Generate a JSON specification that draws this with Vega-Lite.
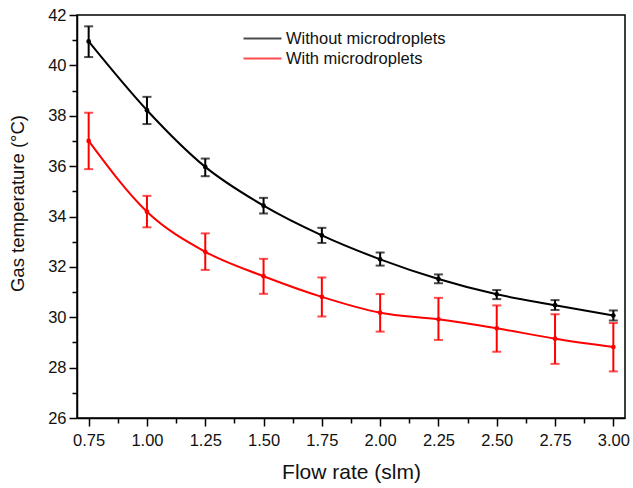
{
  "$schema": "https://vega.github.io/schema/vega-lite/v6.json",
  "width": 548,
  "height": 403,
  "autosize": {"type": "none"},
  "padding": {"left": 77, "top": 15, "right": 8, "bottom": 70},
  "background": "white",
  "config": {
    "view": {"stroke": "black", "strokeWidth": 1.5},
    "font": "Liberation Sans",
    "axis": {"grid": false, "domainColor": "black", "domainWidth": 1.5, "tickColor": "black", "tickWidth": 1.5, "labelColor": "#111", "labelFontSize": 16.5, "titleFontWeight": "normal", "titleColor": "#111"}
  },
  "datasets": {
    "pts": [
      {"x": 0.75, "series": "Without microdroplets", "y": 40.95, "lo": 40.33, "hi": 41.55},
      {"x": 1.00, "series": "Without microdroplets", "y": 38.22, "lo": 37.67, "hi": 38.75},
      {"x": 1.25, "series": "Without microdroplets", "y": 35.97, "lo": 35.6, "hi": 36.3},
      {"x": 1.50, "series": "Without microdroplets", "y": 34.43, "lo": 34.12, "hi": 34.74},
      {"x": 1.75, "series": "Without microdroplets", "y": 33.25, "lo": 32.95, "hi": 33.55},
      {"x": 2.00, "series": "Without microdroplets", "y": 32.3, "lo": 32.05, "hi": 32.57},
      {"x": 2.25, "series": "Without microdroplets", "y": 31.52, "lo": 31.35, "hi": 31.7},
      {"x": 2.50, "series": "Without microdroplets", "y": 30.91, "lo": 30.72, "hi": 31.08},
      {"x": 2.75, "series": "Without microdroplets", "y": 30.48, "lo": 30.29, "hi": 30.68},
      {"x": 3.00, "series": "Without microdroplets", "y": 30.07, "lo": 29.87, "hi": 30.27},
      {"x": 0.75, "series": "With microdroplets", "y": 37.0, "lo": 35.88, "hi": 38.12},
      {"x": 1.00, "series": "With microdroplets", "y": 34.19, "lo": 33.57, "hi": 34.82},
      {"x": 1.25, "series": "With microdroplets", "y": 32.6, "lo": 31.88, "hi": 33.33},
      {"x": 1.50, "series": "With microdroplets", "y": 31.63, "lo": 30.93, "hi": 32.32},
      {"x": 1.75, "series": "With microdroplets", "y": 30.81, "lo": 30.03, "hi": 31.58},
      {"x": 2.00, "series": "With microdroplets", "y": 30.18, "lo": 29.43, "hi": 30.92},
      {"x": 2.25, "series": "With microdroplets", "y": 29.92, "lo": 29.1, "hi": 30.77},
      {"x": 2.50, "series": "With microdroplets", "y": 29.56, "lo": 28.63, "hi": 30.47},
      {"x": 2.75, "series": "With microdroplets", "y": 29.15, "lo": 28.15, "hi": 30.12},
      {"x": 3.00, "series": "With microdroplets", "y": 28.82, "lo": 27.85, "hi": 29.77}
    ],
    "minor": [
      {"mx": 0.875, "my": 27}, {"mx": 1.125, "my": 29}, {"mx": 1.375, "my": 31},
      {"mx": 1.625, "my": 33}, {"mx": 1.875, "my": 35}, {"mx": 2.125, "my": 37},
      {"mx": 2.375, "my": 39}, {"mx": 2.625, "my": 41}, {"mx": 2.875, "my": 41}
    ]
  },
  "resolve": {"axis": {"x": "independent", "y": "independent"}},
  "layer": [
    {
      "data": {"name": "minor"},
      "mark": {"type": "point", "opacity": 0},
      "encoding": {
        "x": {"field": "mx", "type": "quantitative", "scale": {"domain": [0.7, 3.05], "nice": false, "zero": false},
              "axis": {"orient": "bottom", "values": [0.875, 1.125, 1.375, 1.625, 1.875, 2.125, 2.375, 2.625, 2.875], "labels": false, "tickSize": 5, "domain": false, "title": null}},
        "y": {"field": "my", "type": "quantitative", "scale": {"domain": [26, 42], "nice": false, "zero": false},
              "axis": {"orient": "left", "values": [27, 29, 31, 33, 35, 37, 39, 41], "labels": false, "tickSize": 5, "domain": false, "title": null}}
      }
    },
    {
      "data": {"name": "pts"},
      "layer": [
        {
          "mark": {"type": "rule", "strokeWidth": 2},
          "encoding": {
            "x": {"field": "x", "type": "quantitative", "scale": {"domain": [0.7, 3.05], "nice": false, "zero": false},
                  "axis": {"orient": "bottom", "values": [0.75, 1.0, 1.25, 1.5, 1.75, 2.0, 2.25, 2.5, 2.75, 3.0], "format": ".2f", "tickSize": 8, "labelPadding": 6, "title": "Flow rate (slm)", "titleFontSize": 21, "titlePadding": 13}},
            "y": {"field": "lo", "type": "quantitative", "scale": {"domain": [26, 42], "nice": false, "zero": false},
                  "axis": {"orient": "left", "values": [26, 28, 30, 32, 34, 36, 38, 40, 42], "tickSize": 8, "labelPadding": 3, "title": "Gas temperature (°C)", "titleFontSize": 18.5, "titlePadding": 20, "titleY": 188}},
            "y2": {"field": "hi"},
            "color": {"field": "series", "type": "nominal", "scale": {"domain": ["Without microdroplets", "With microdroplets"], "range": ["#000000", "#ff0000"]},
                      "legend": {"orient": "none", "legendX": 175, "legendY": 13, "title": null, "symbolType": "M-2,0H2", "symbolSize": 361, "symbolStrokeWidth": 2, "labelFontSize": 16.5, "labelColor": "#111", "labelOffset": 13, "rowPadding": 1}}
          }
        },
        {
          "mark": {"type": "tick", "orient": "horizontal", "size": 9, "thickness": 2},
          "encoding": {
            "x": {"field": "x", "type": "quantitative"},
            "y": {"field": "lo", "type": "quantitative"},
            "color": {"field": "series", "type": "nominal"}
          }
        },
        {
          "mark": {"type": "tick", "orient": "horizontal", "size": 9, "thickness": 2},
          "encoding": {
            "x": {"field": "x", "type": "quantitative"},
            "y": {"field": "hi", "type": "quantitative"},
            "color": {"field": "series", "type": "nominal"}
          }
        },
        {
          "mark": {"type": "line", "interpolate": "monotone", "strokeWidth": 2},
          "encoding": {
            "x": {"field": "x", "type": "quantitative"},
            "y": {"field": "y", "type": "quantitative"},
            "color": {"field": "series", "type": "nominal"}
          }
        },
        {
          "mark": {"type": "point", "filled": true, "size": 22, "opacity": 1},
          "encoding": {
            "x": {"field": "x", "type": "quantitative"},
            "y": {"field": "y", "type": "quantitative"},
            "color": {"field": "series", "type": "nominal"}
          }
        }
      ]
    }
  ]
}
